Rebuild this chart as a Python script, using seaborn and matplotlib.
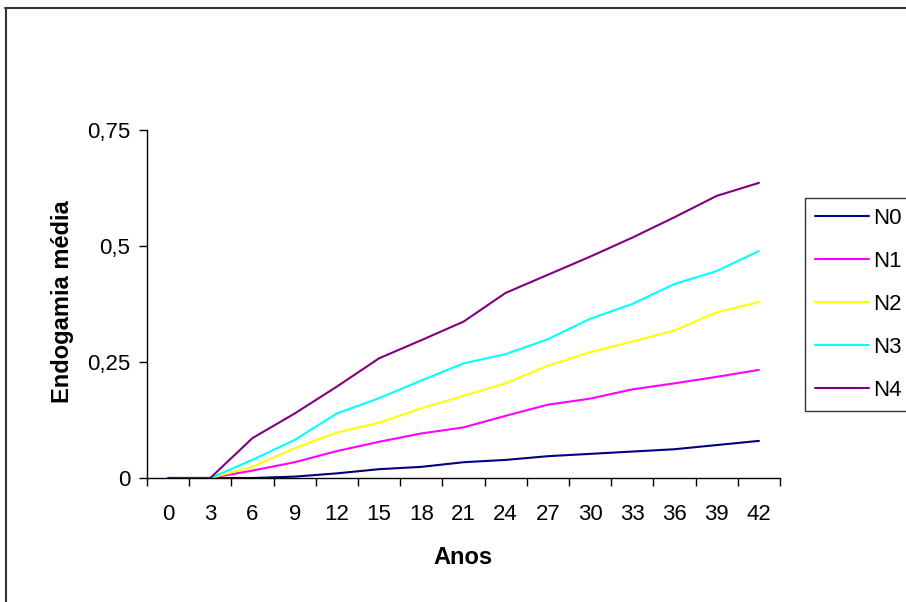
import matplotlib
matplotlib.use("Agg")
import matplotlib.pyplot as plt
from matplotlib.lines import Line2D
import seaborn as sns
import pandas as pd

# Mean inbreeding per herd strategy over the years
anos = [0, 3, 6, 9, 12, 15, 18, 21, 24, 27, 30, 33, 36, 39, 42]
n0 = [0, 0, 0, 0.003, 0.010, 0.019, 0.024, 0.034, 0.039, 0.047, 0.052, 0.057, 0.062, 0.071, 0.080]
n1 = [0, 0, 0.016, 0.034, 0.058, 0.078, 0.096, 0.109, 0.134, 0.158, 0.171, 0.191, 0.204, 0.218, 0.233]
n2 = [0, 0, 0.024, 0.064, 0.098, 0.119, 0.150, 0.177, 0.204, 0.242, 0.271, 0.294, 0.318, 0.357, 0.379]
n3 = [0, 0, 0.039, 0.082, 0.139, 0.172, 0.210, 0.247, 0.267, 0.299, 0.343, 0.375, 0.418, 0.446, 0.489]
n4 = [0, 0, 0.086, 0.139, 0.197, 0.258, 0.297, 0.337, 0.399, 0.438, 0.477, 0.518, 0.562, 0.608, 0.636]
series_names = ["N0", "N1", "N2", "N3", "N4"]
series_colors = ["#000080", "#FF00FF", "#FFFF00", "#00FFFF", "#800080"]
ytick_vals = [0, 0.25, 0.5, 0.75]
ytick_labels = ["0", "0,25", "0,5", "0,75"]

frames = []
for name, vals in zip(series_names, [n0, n1, n2, n3, n4]):
    frames.append(pd.DataFrame({"Anos": anos, "F": vals, "Serie": name}))
df = pd.concat(frames, ignore_index=True)

sns.set_style("white")
plt.rcParams["font.family"] = ["Liberation Sans", "DejaVu Sans"]
plt.rcParams["text.color"] = "black"
plt.rcParams["axes.labelcolor"] = "black"
plt.rcParams["xtick.color"] = "black"
plt.rcParams["ytick.color"] = "black"

W, H = 906, 602
fig = plt.figure(figsize=(W / 100, H / 100), dpi=100)
ax = fig.add_axes([147 / W, 1 - 478 / H, (780 - 147) / W, (478 - 130) / H])

sns.lineplot(data=df, x="Anos", y="F", hue="Serie", hue_order=series_names,
             palette=dict(zip(series_names, series_colors)), linewidth=1.5,
             ax=ax, legend=True)

ax.set_xlim(-1.5, 43.5)
ax.set_ylim(0, 0.75)
ax.set_xticks(anos)
ax.set_xticklabels([str(a) for a in anos], fontsize=16)
ax.set_xticks([-1.5 + 3 * k for k in range(len(anos) + 1)], minor=True)
ax.tick_params(axis="x", which="major", length=0, pad=19)
ax.tick_params(axis="x", which="minor", length=6, width=1, color="black", direction="out", bottom=True)
ax.set_yticks(ytick_vals)
ax.set_yticklabels(ytick_labels, fontsize=16)
ax.tick_params(axis="y", which="major", length=6, width=1, color="black", direction="out", left=True, pad=6)

for side in ["top", "right"]:
    ax.spines[side].set_visible(False)
for side in ["left", "bottom"]:
    ax.spines[side].set_color("black")
    ax.spines[side].set_linewidth(1)

ax.set_xlabel("Anos", fontsize=17, fontweight="bold")
ax.xaxis.set_label_coords((463 - 147) / (780 - 147), (478 - 558) / (478 - 130))
ax.xaxis.label.set_va("center")
ax.set_ylabel("Endogamia média", fontsize=17, fontweight="bold")
ax.yaxis.set_label_coords((62 - 147) / (780 - 147), (478 - 302) / (478 - 130))
ax.yaxis.label.set_va("center")

leg = ax.legend(loc="upper left", bbox_to_anchor=(805 / W, 1 - 198 / H),
                bbox_transform=fig.transFigure, frameon=True, fancybox=False,
                fontsize=16, handlelength=2.43, handletextpad=0.2,
                labelspacing=0.99, borderpad=0.45, borderaxespad=0)
leg.get_frame().set_edgecolor("black")
leg.get_frame().set_linewidth(1)
for line in leg.get_lines():
    line.set_linewidth(1.5)

# chart-area border
fig.add_artist(Line2D([5.5 / W, 5.5 / W], [0, 1 - 8 / H], transform=fig.transFigure,
                      color="#333333", linewidth=1.5))
fig.add_artist(Line2D([5 / W, 1], [1 - 8 / H, 1 - 8 / H], transform=fig.transFigure,
                      color="#333333", linewidth=1.5))

fig.savefig("out.png", dpi=100)
